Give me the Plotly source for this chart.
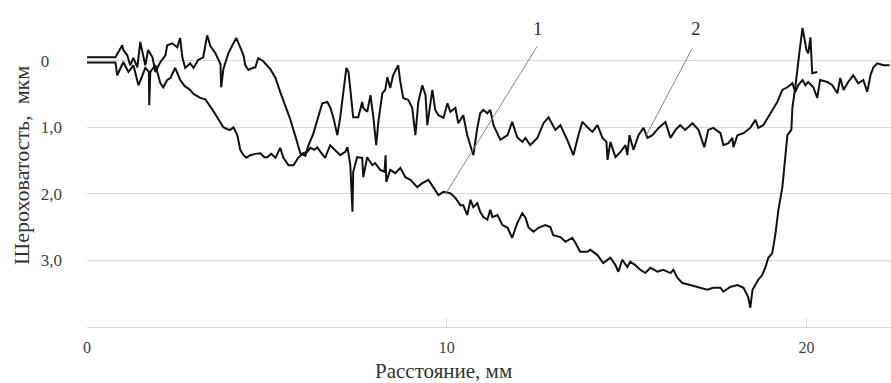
import plotly.graph_objects as go

# Curve 1 (deep profile)
x1 = [0.0, 0.79, 0.84, 0.93, 1.01, 1.15, 1.29, 1.43, 1.54, 1.62, 1.72, 1.73, 1.76, 1.90, 1.98,
      2.04, 2.12, 2.23, 2.32, 2.45, 2.59, 2.71, 2.79, 2.87, 2.96, 3.07, 3.15, 3.29, 3.37, 3.49,
      3.62, 3.71, 3.79, 3.90, 3.98, 4.07, 4.18, 4.26, 4.35, 4.43, 4.54, 4.68, 4.82, 4.93, 5.01,
      5.12, 5.24, 5.37, 5.46, 5.60, 5.74, 5.87, 6.01, 6.12, 6.21, 6.32, 6.40, 6.49, 6.57, 6.62,
      6.76, 6.90, 7.04, 7.18, 7.24, 7.32, 7.38, 7.40, 7.51, 7.65, 7.68, 7.79, 7.93, 8.01, 8.15,
      8.27, 8.30, 8.32, 8.43, 8.57, 8.71, 8.85, 8.99, 9.18, 9.32, 9.49, 9.63, 9.77, 9.91, 10.10,
      10.24, 10.38, 10.46, 10.57, 10.66, 10.74, 10.85, 10.93, 11.02, 11.13, 11.21, 11.27, 11.41,
      11.55, 11.69, 11.82, 11.96, 12.10, 12.19, 12.27, 12.41, 12.55, 12.74, 12.88, 12.96, 13.16,
      13.30, 13.49, 13.58, 13.71, 13.91, 13.99, 14.19, 14.35, 14.55, 14.69, 14.77, 14.88, 15.02,
      15.10, 15.24, 15.38, 15.52, 15.66, 15.86, 16.02, 16.22, 16.30, 16.41, 16.55, 16.77, 17.05,
      17.24, 17.41, 17.61, 17.69, 17.88, 18.08, 18.25, 18.38, 18.44, 18.50, 18.58, 18.66, 18.77,
      18.86, 18.94, 19.05, 19.14, 19.22, 19.33, 19.41, 19.47, 19.58, 19.61, 19.69, 19.75, 19.80,
      19.89, 19.94, 20.00, 20.05, 20.11, 20.16, 20.30]
y1 = [0.03, 0.03, 0.22, 0.11, 0.02, 0.17, 0.07, 0.37, 0.22, 0.11, 0.17, 0.67, 0.17, 0.07, 0.22,
      0.34, 0.40, 0.29, 0.26, 0.11, 0.29, 0.38, 0.41, 0.44, 0.50, 0.53, 0.56, 0.58, 0.64, 0.74,
      0.85, 0.92, 1.00, 1.03, 1.04, 1.00, 1.12, 1.34, 1.42, 1.46, 1.42, 1.40, 1.39, 1.45, 1.45,
      1.40, 1.46, 1.31, 1.46, 1.57, 1.57, 1.46, 1.39, 1.37, 1.31, 1.34, 1.30, 1.37, 1.42, 1.46,
      1.27, 1.34, 1.42, 1.37, 1.30, 1.57, 2.27, 1.67, 1.45, 1.46, 1.75, 1.45, 1.57, 1.54, 1.64,
      1.67, 1.42, 1.82, 1.64, 1.69, 1.61, 1.75, 1.79, 1.90, 1.84, 1.79, 1.90, 2.02, 1.97, 1.99,
      2.06, 2.17, 2.17, 2.32, 2.09, 2.20, 2.14, 2.27, 2.35, 2.39, 2.24, 2.35, 2.32,
      2.47, 2.51, 2.66, 2.44, 2.29, 2.36, 2.50, 2.57, 2.51, 2.47, 2.50, 2.62, 2.65,
      2.72, 2.66, 2.74, 2.87, 2.87, 2.84, 2.92, 3.04, 2.96, 3.07, 3.17, 2.99, 3.10,
      3.02, 3.07, 3.14, 3.19, 3.11, 3.17, 3.14, 3.19, 3.14, 3.26, 3.34, 3.37, 3.41,
      3.44, 3.41, 3.41, 3.47, 3.40, 3.37, 3.41, 3.55, 3.71, 3.44, 3.37, 3.29, 3.22,
      3.10, 2.96, 2.89, 2.59, 2.24, 1.90, 1.49, 1.12, 1.04, 0.70, 0.40, 0.10, -0.11,
      -0.49, -0.35, -0.16, -0.11, -0.35, 0.19, 0.17]

# Curve 2 (upper profile)
x2 = [0.0, 0.79, 0.98, 1.01, 1.12, 1.20, 1.29, 1.40, 1.48, 1.54, 1.62, 1.70, 1.82, 1.90, 2.04,
      2.18, 2.23, 2.37, 2.51, 2.59, 2.65, 2.73, 2.87, 2.96, 3.09, 3.23, 3.34, 3.43, 3.57, 3.71,
      3.73, 3.79, 3.93, 4.04, 4.15, 4.26, 4.35, 4.40, 4.49, 4.60, 4.68, 4.76, 4.90, 5.10, 5.24,
      5.37, 5.51, 5.65, 5.79, 5.93, 6.07, 6.15, 6.29, 6.43, 6.54, 6.68, 6.76, 6.85, 6.96, 7.04,
      7.13, 7.21, 7.27, 7.32, 7.40, 7.54, 7.65, 7.68, 7.79, 7.88, 7.96, 8.04, 8.10, 8.21, 8.29,
      8.35, 8.43, 8.51, 8.65, 8.71, 8.79, 8.93, 9.04, 9.13, 9.21, 9.32, 9.41, 9.46, 9.60, 9.68,
      9.77, 9.91, 10.02, 10.10, 10.24, 10.32, 10.46, 10.57, 10.66, 10.74, 10.85, 10.93, 11.02,
      11.13, 11.21, 11.30, 11.49, 11.69, 11.82, 11.96, 12.10, 12.19, 12.32, 12.52, 12.69, 12.83,
      13.02, 13.16, 13.35, 13.52, 13.66, 13.77, 13.91, 14.05, 14.19, 14.33, 14.44, 14.47, 14.55,
      14.69, 14.83, 14.97, 15.02, 15.08, 15.19, 15.33, 15.47, 15.58, 15.72, 15.89, 16.08, 16.22,
      16.36, 16.49, 16.63, 16.83, 17.00, 17.16, 17.27, 17.41, 17.61, 17.69, 17.83, 17.94, 17.97,
      18.08, 18.25, 18.44, 18.58, 18.66, 18.80, 19.00, 19.19, 19.33, 19.47, 19.61, 19.69, 19.77,
      19.89, 19.97, 20.05, 20.19, 20.30, 20.38, 20.58, 20.72, 20.86, 20.94, 21.03, 21.16, 21.30,
      21.44, 21.58, 21.69, 21.78, 21.86, 21.97, 22.14, 22.31]
y2 = [-0.05, -0.05, -0.23, -0.16, -0.08, 0.07, -0.04, 0.10, -0.28, -0.13, 0.07, -0.16, -0.05, 0.17, 0.02,
      -0.08, -0.23, -0.26, -0.20, -0.34, -0.05, 0.11, 0.04, 0.11, -0.01, -0.05, -0.38, -0.22, -0.11, 0.05,
      0.40, 0.13, -0.11, -0.23, -0.34, -0.20, -0.08, 0.07, 0.14, 0.11, 0.10, -0.04, 0.01, 0.13, 0.26,
      0.47, 0.67, 0.88, 1.13, 1.39, 1.43, 1.28, 1.10, 0.86, 0.64, 0.62, 0.70, 0.86, 1.12, 0.85,
      0.47, 0.11, 0.17, 0.47, 0.85, 0.85, 0.62, 0.71, 0.77, 0.52, 0.85, 1.27, 0.92, 0.49, 0.44,
      0.25, 0.41, 0.22, 0.07, 0.32, 0.56, 0.59, 0.71, 1.12, 0.62, 0.37, 0.52, 0.97, 0.44, 0.74,
      0.82, 0.86, 0.64, 0.77, 0.71, 0.94, 0.82, 1.12, 1.27, 1.42, 1.01, 0.79, 0.74,
      0.79, 0.74, 0.97, 1.19, 1.12, 0.92, 1.15, 1.22, 1.16, 1.27, 1.16, 0.94, 0.85,
      1.04, 0.97, 1.19, 1.42, 1.12, 0.92, 1.00, 1.07, 0.97, 1.16, 1.22, 1.49, 1.22,
      1.45, 1.37, 1.27, 1.42, 1.12, 1.34, 1.12, 1.01, 1.16, 1.12, 1.01, 0.92, 1.16,
      1.04, 0.97, 1.04, 0.94, 1.04, 1.30, 1.04, 1.01, 1.09, 1.27, 1.24, 1.16, 1.30,
      1.12, 1.09, 1.01, 0.89, 1.01, 0.97, 0.79, 0.62, 0.44, 0.40, 0.34, 0.47, 0.37,
      0.29, 0.37, 0.32, 0.40, 0.56, 0.29, 0.32, 0.37, 0.49, 0.26, 0.44, 0.32, 0.22,
      0.34, 0.29, 0.47, 0.22, 0.10, 0.04, 0.07, 0.07]

y_tickvals = [0, 1, 2, 3]
y_ticktext = ["0\u00a0\u00a0\u00a0", "1,0", "2,0", "3,0"]
x_tickvals = [0, 10, 20]
x_ticktext = ["0", "10", "20"]

SERIF = "Liberation Serif, Times New Roman, serif"

fig = go.Figure()
for xs, ys in [(x1, y1), (x2, y2)]:
    fig.add_trace(go.Scatter(x=xs, y=ys, mode="lines",
                             line=dict(color="#111111", width=2),
                             showlegend=False, hoverinfo="skip"))

fig.update_layout(
    width=891, height=383,
    margin=dict(l=87, r=0, t=24, b=56, autoexpand=False),
    paper_bgcolor="white", plot_bgcolor="white",
    font=dict(family=SERIF, color="#404040"),
    xaxis=dict(range=[0, 22.35], tickvals=x_tickvals, ticktext=x_ticktext,
               showgrid=False, zeroline=False, showline=True, linecolor="#d9d9d9", linewidth=1,
               ticks="inside", ticklen=9, tickcolor="#d9d9d9", tickwidth=1,
               tickfont=dict(family=SERIF, size=16, color="#404040"),
               ticklabelstandoff=6),
    yaxis=dict(range=[4, -0.55], tickvals=y_tickvals, ticktext=y_ticktext,
               showgrid=True, gridcolor="#d9d9d9", gridwidth=1, zeroline=False,
               showline=False, ticks="",
               tickfont=dict(family=SERIF, size=17, color="#404040"),
               ticklabelstandoff=24),
)

fig.add_annotation(text="Расстояние, мм", xref="paper", yref="paper",
                   x=(443 - 87) / 804, y=-(384 - 327) / 303, showarrow=False,
                   font=dict(family=SERIF, size=21, color="#333333"),
                   xanchor="center", yanchor="bottom", borderpad=0)
fig.add_annotation(text="Шероховатость,\u00a0 мкм", xref="paper", yref="paper",
                   x=-(87 - 21) / 804, y=(327 - 166) / 303, showarrow=False, textangle=-90,
                   font=dict(family=SERIF, size=22, color="#333333"),
                   xanchor="center", yanchor="middle")
fig.add_annotation(text="1", xref="x", yref="y", x=12.55, y=-0.49, showarrow=False,
                   font=dict(family=SERIF, size=19, color="#333333"))
fig.add_annotation(text="2", xref="x", yref="y", x=16.94, y=-0.49, showarrow=False,
                   font=dict(family=SERIF, size=19, color="#333333"))
fig.add_shape(type="line", xref="x", yref="y", x0=12.51, y0=-0.21, x1=9.98, y1=1.99,
              line=dict(color="#888888", width=1))
fig.add_shape(type="line", xref="x", yref="y", x0=16.82, y0=-0.18, x1=15.55, y1=1.12,
              line=dict(color="#888888", width=1))

fig.write_html("out.html", config={"displayModeBar": False},
               post_script="document.body.style.margin='0';document.body.style.overflow='hidden';")
